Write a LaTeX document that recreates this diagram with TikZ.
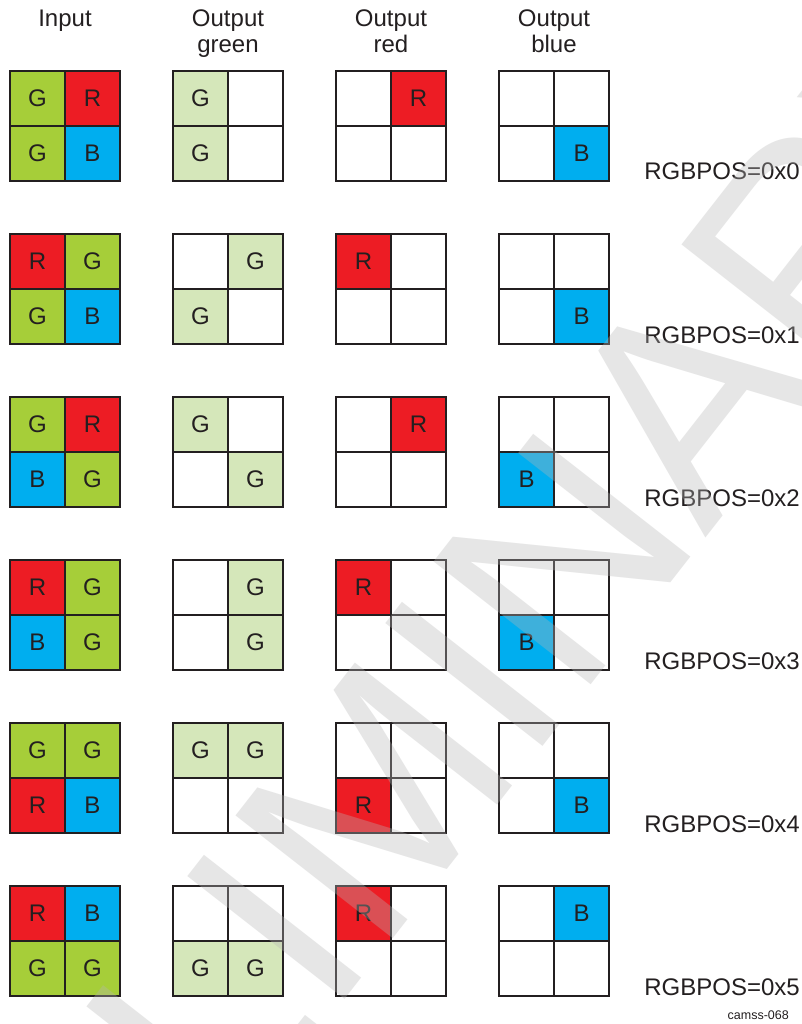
\documentclass[tikz,border=0pt]{standalone}
\usepackage{fontspec}
\setmainfont{Liberation Sans}
\definecolor{iG}{RGB}{166,206,57}
\definecolor{iR}{RGB}{237,28,36}
\definecolor{iB}{RGB}{0,174,239}
\definecolor{gG}{RGB}{213,231,186}
\colorlet{gR}{white}
\colorlet{gB}{white}
\colorlet{rG}{white}
\colorlet{rR}{iR}
\colorlet{rB}{white}
\colorlet{bG}{white}
\colorlet{bR}{white}
\colorlet{bB}{iB}
\definecolor{linec}{RGB}{35,31,32}
\definecolor{wmc}{RGB}{182,182,182}
\def\bayiG{G}\def\bayiR{R}\def\bayiB{B}
\def\baygG{G}\def\baygR{}\def\baygB{}
\def\bayrG{}\def\bayrR{R}\def\bayrB{}
\def\baybG{}\def\baybR{}\def\baybB{B}
\tikzset{
  cellbox/.style={draw=linec, line width=2.6pt, minimum size=55pt, inner sep=0pt,
    text=linec, font=\fontsize{24}{24}\selectfont},
  poslabel/.style={anchor=base east, inner sep=0pt, text=linec, font=\fontsize{24}{24}\selectfont},
  header/.style={anchor=north, inner sep=0pt, align=center, text=linec, font=\fontsize{24}{26}\selectfont},
  wmark/.style={inner sep=0pt, text=wmc, text opacity=0.34, font=\fontsize{290}{290}\selectfont},
  figid/.style={anchor=base east, inner sep=0pt, text=linec, font=\fontsize{12.5}{12.5}\selectfont}
}
\newcommand{\bcell}[6]{%
  \node[cellbox, fill=#1#6] (#1-#2-#3) at (#4,#5) {\csname bay#1#6\endcsname};}
\newcommand{\bgrid}[7]{%
  \pgfmathsetmacro\gy{71+163*#3}%
  \bcell{#1}{#3}{tl}{#2+27.5}{\gy+27.5}{#4}
  \bcell{#1}{#3}{tr}{#2+82.5}{\gy+27.5}{#5}
  \bcell{#1}{#3}{bl}{#2+27.5}{\gy+82.5}{#6}
  \bcell{#1}{#3}{br}{#2+82.5}{\gy+82.5}{#7}}
\newcommand{\brow}[5]{%
  \bgrid{i}{10}{#1}{#2}{#3}{#4}{#5}
  \bgrid{g}{173}{#1}{#2}{#3}{#4}{#5}
  \bgrid{r}{336}{#1}{#2}{#3}{#4}{#5}
  \bgrid{b}{499}{#1}{#2}{#3}{#4}{#5}
  \node[poslabel] (pos-#1) at (800,{71+163*#1+109}) {RGBPOS=0x#1};}
\begin{document}
\begin{tikzpicture}[x=1pt,y=-1pt]
\fill[white] (0,0) rectangle (801,1024);
\useasboundingbox (0,0) rectangle (801,1024);
\node[header] (h-in) at (65,9.5) {Input};
\node[header] (h-g) at (228,9.5) {Output\\green};
\node[header] (h-r) at (391,9.5) {Output\\red};
\node[header] (h-b) at (554,9.5) {Output\\blue};
\brow{0}{G}{R}{G}{B}
\brow{1}{R}{G}{G}{B}
\brow{2}{G}{R}{B}{G}
\brow{3}{R}{G}{B}{G}
\brow{4}{G}{G}{R}{B}
\brow{5}{R}{B}{G}{G}
\node[figid] (fig) at (789,1019) {camss-068};
\node[wmark, rotate=52, anchor=base west] (wm) at (-138,1618) {PRELIMINARY};
\end{tikzpicture}
\end{document}
